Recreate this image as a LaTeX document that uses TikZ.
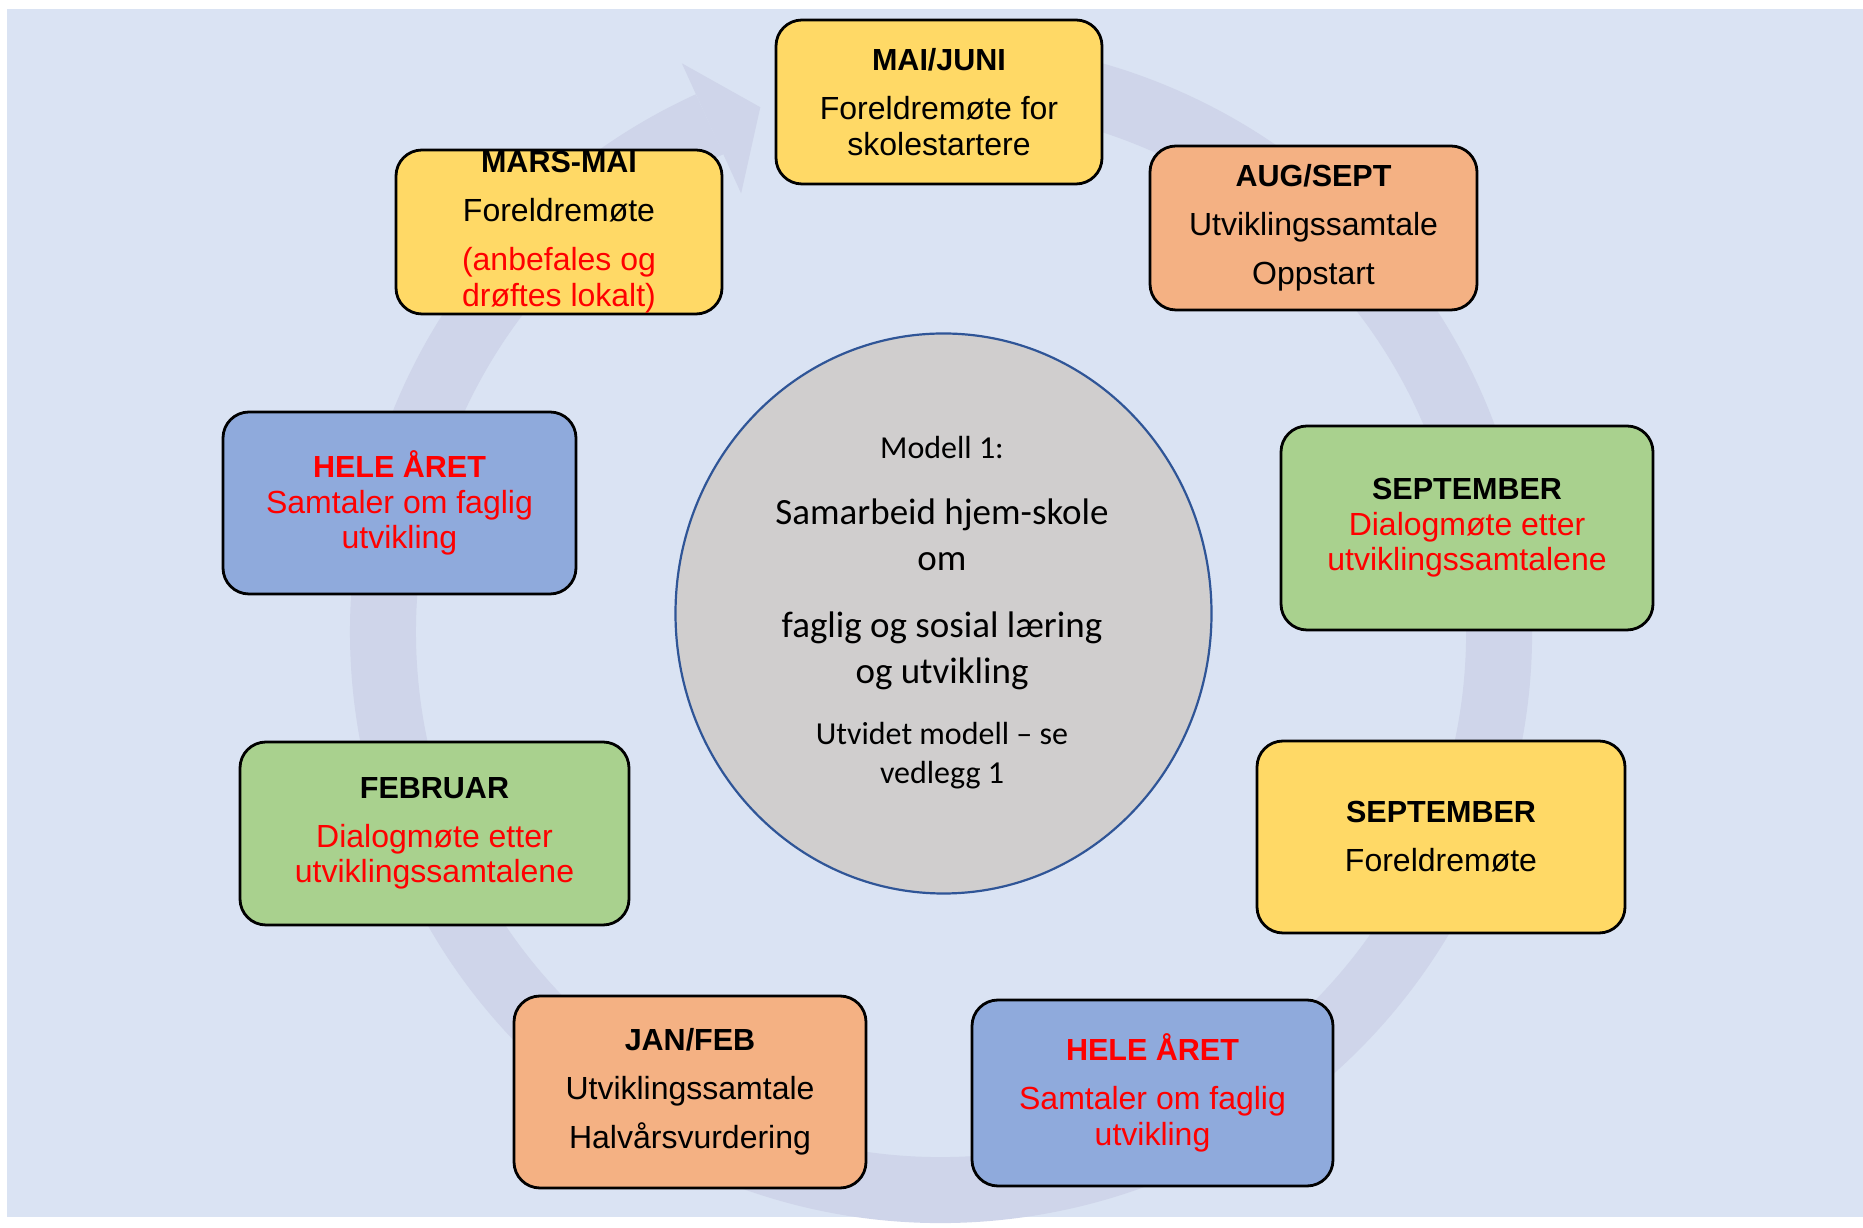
\documentclass[tikz,border=0pt]{standalone}
\usepackage{fontspec}
\setmainfont{Liberation Sans}
\newfontfamily\circlefont{Carlito}
\usetikzlibrary{shapes.geometric}

\definecolor{bgblue}{HTML}{DAE3F3}
\definecolor{ringblue}{HTML}{CFD5EA}
\definecolor{boxyellow}{HTML}{FFD966}
\definecolor{boxorange}{HTML}{F4B183}
\definecolor{boxgreen}{HTML}{A9D18E}
\definecolor{boxblue}{HTML}{8FAADC}
\definecolor{circgray}{HTML}{D0CECE}
\definecolor{circline}{HTML}{2F5597}
\definecolor{txtred}{HTML}{FF0000}

\newcommand{\monthhead}[1]{{\fontsize{30.5}{35.5}\selectfont\bfseries #1}}
\newcommand{\redline}[1]{\textcolor{txtred}{#1}}

\tikzset{
  month/.style={draw=black, line width=2.8pt, rounded corners=26pt, align=center,
    inner sep=0pt, font=\fontsize{32}{35.5}\selectfont},
  yellowbox/.style={month, fill=boxyellow},
  orangebox/.style={month, fill=boxorange},
  greenbox/.style={month, fill=boxgreen},
  bluebox/.style={month, fill=boxblue},
  circletext/.style={align=center, font=\circlefont\fontsize{32}{39}\selectfont}
}

\begin{document}
\begin{tikzpicture}[x=1pt,y=1pt]
\useasboundingbox (0,0) rectangle (1863,1228);
\fill[bgblue] (7,11) rectangle (1863,1219);
% the year wheel
\begin{scope}[shift={(941,596)}]
\draw[ringblue,line width=66pt] (100:558) arc[start angle=100, end angle=-245.5, radius=558];
\fill[ringblue] (114.5:625) -- (109:555) -- (114.5:482) -- cycle;
\end{scope}
% centre
\node[ellipse, draw=circline, line width=2.2pt, fill=circgray, minimum width=536pt,
  minimum height=560pt, inner sep=0pt] (model) at (943.5,614.5) {};
\node[circletext] (modelltitle) at (942,780) {Modell 1:};
\node[circletext, font=\circlefont\fontsize{37}{46}\selectfont] (modelltext) at (942,634)
  {Samarbeid hjem-skole\\om\\[21pt]faglig og sosial læring\\og utvikling};
\node[circletext] (modellnote) at (942,472) {Utvidet modell – se\\vedlegg 1};
% months
\node[yellowbox, minimum width=326pt, minimum height=164pt] (maijuni) at (939,1126)
  {\monthhead{MAI/JUNI}\\[13.5pt]Foreldremøte for\\skolestartere};
\node[orangebox, minimum width=327pt, minimum height=164pt] (augsept) at (1313.5,1000)
  {\monthhead{AUG/SEPT}\\[13.5pt]Utviklingssamtale\\[13.5pt]Oppstart};
\node[greenbox, minimum width=372pt, minimum height=204pt] (septdialog) at (1467,700)
  {\monthhead{SEPTEMBER}\\\redline{Dialogmøte etter}\\\redline{utviklingssamtalene}};
\node[yellowbox, minimum width=368pt, minimum height=192pt] (septforeldre) at (1441,391)
  {\monthhead{SEPTEMBER}\\[13.5pt]Foreldremøte};
\node[bluebox, minimum width=361pt, minimum height=186pt] (heleretB) at (1152.5,135)
  {\redline{\monthhead{HELE ÅRET}}\\[13.5pt]\redline{Samtaler om faglig}\\\redline{utvikling}};
\node[orangebox, minimum width=352pt, minimum height=192pt] (janfeb) at (690,136)
  {\monthhead{JAN/FEB}\\[13.5pt]Utviklingssamtale\\[13.5pt]Halvårsvurdering};
\node[greenbox, minimum width=389pt, minimum height=183pt] (februar) at (434.5,394.5)
  {\monthhead{FEBRUAR}\\[13.5pt]\redline{Dialogmøte etter}\\\redline{utviklingssamtalene}};
\node[bluebox, minimum width=353pt, minimum height=182pt] (heleretA) at (399.5,725)
  {\redline{\monthhead{HELE ÅRET}}\\\redline{Samtaler om faglig}\\\redline{utvikling}};
\node[yellowbox, minimum width=326pt, minimum height=164pt] (marsmai) at (559,996)
  {\monthhead{MARS-MAI}\\[13.5pt]Foreldremøte\\[13.5pt]\redline{(anbefales og}\\\redline{drøftes lokalt)}};
\end{tikzpicture}
\end{document}
